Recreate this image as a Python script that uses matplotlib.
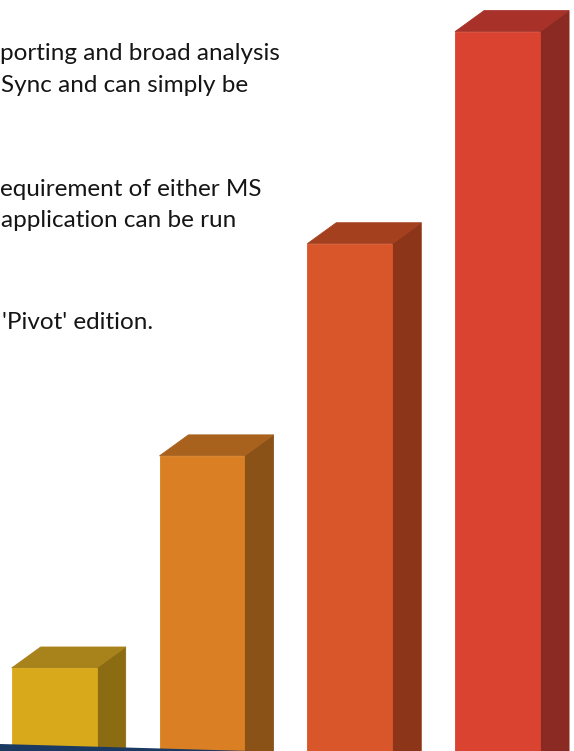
import matplotlib
matplotlib.use('Agg')
import matplotlib.pyplot as plt
from matplotlib.patches import Polygon

# Dữ liệu: 4 cột bậc thang (chiều cao tương đối)
levels = [1, 2, 3, 4]
front_colors = ['#D9A91C', '#DA7F24', '#D9552A', '#D94330']
top_colors = ['#A8821A', '#A8621D', '#A5401F', '#A8322A']
side_colors = ['#8C6C13', '#8A5217', '#8C3519', '#8B2A22']

# Các dòng chữ bên trái (bị cắt ở mép trái)
text_lines = ["porting and broad analysis",
              "Sync and can simply be",
              "equirement of either MS",
              "application can be run",
              "'Pivot' edition."]
text_x = [0, 1, 0, 1, 2]
text_base = [60, 92, 196, 227, 329]

W, H = 574, 751
fig = plt.figure(figsize=(W / 100, H / 100), dpi=100)
ax = fig.add_axes([0, 0, 1, 1])
ax.set_xlim(-0.3667, 3.517)
ax.set_ylim(0.6087, 4.149)
ax.axis('off')

bw = 0.575   # độ rộng mặt trước
dx = 0.196   # độ sâu theo x
dy = 0.099   # độ sâu theo y

xs = range(len(levels))
ax.bar(xs, levels, width=bw, color=front_colors, edgecolor=front_colors,
       linewidth=0.6, zorder=3)
for x, v, tc, sc in zip(xs, levels, top_colors, side_colors):
    r = x + bw / 2
    l = x - bw / 2
    ax.add_patch(Polygon([(r, 0), (r, v), (r + dx, v + dy), (r + dx, dy)],
                         closed=True, facecolor=sc, edgecolor=sc, lw=0.6, zorder=2))
    ax.add_patch(Polygon([(l, v), (r, v), (r + dx, v + dy), (l + dx, v + dy)],
                         closed=True, facecolor=tc, edgecolor=tc, lw=0.6, zorder=2))

# Dải xanh đậm ở đáy
band = Polygon([(0, 0), (0, 7 / H), (250 / W, 0)], closed=True,
               transform=fig.transFigure, facecolor='#1B3A62', edgecolor='none', zorder=5)
fig.patches.append(band)

for s, x, y in zip(text_lines, text_x, text_base):
    fig.text(x / W, 1 - y / H, s, fontsize=17.5, family='Lato', color='#151515',
             ha='left', va='baseline')

plt.savefig('out.png', dpi=100)
